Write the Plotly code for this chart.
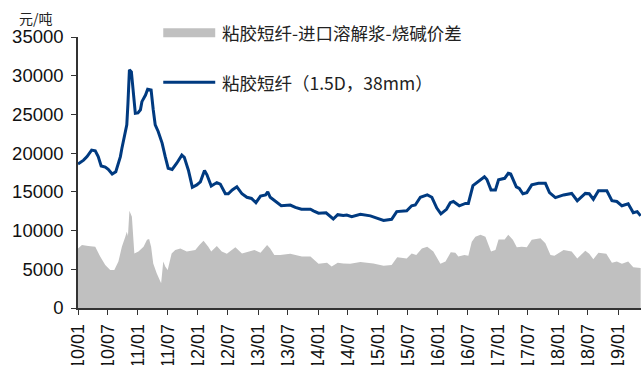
import plotly.graph_objects as go

# Viscose staple fibre price (1.5D, 38mm), yuan/tonne
fiber_dates = [
    "2010-01-01", "2010-02-04", "2010-02-25", "2010-03-25", "2010-04-16", "2010-05-04",
    "2010-05-22", "2010-06-16", "2010-07-04", "2010-07-28", "2010-08-19", "2010-09-16",
    "2010-09-25", "2010-10-10", "2010-10-25", "2010-11-01", "2010-11-10", "2010-11-22",
    "2010-12-04", "2010-12-16", "2011-01-01", "2011-01-16", "2011-01-25", "2011-02-16",
    "2011-03-01", "2011-03-22", "2011-04-04", "2011-04-16", "2011-05-04", "2011-05-28",
    "2011-06-16", "2011-07-04", "2011-07-28", "2011-08-25", "2011-09-25", "2011-10-10",
    "2011-11-04", "2011-11-28", "2011-12-25", "2012-01-16", "2012-02-10", "2012-02-25",
    "2012-03-22", "2012-04-25", "2012-05-16", "2012-06-16", "2012-07-04", "2012-07-28",
    "2012-08-25", "2012-09-25", "2012-10-25", "2012-11-22", "2012-12-19", "2013-01-16",
    "2013-02-16", "2013-03-01", "2013-03-16", "2013-04-16", "2013-05-22", "2013-07-16",
    "2013-08-16", "2013-09-22", "2013-11-16", "2013-12-04", "2014-01-04", "2014-02-19",
    "2014-03-10", "2014-04-04", "2014-05-01", "2014-06-04", "2014-06-25", "2014-07-25",
    "2014-09-16", "2014-11-16", "2014-12-25", "2015-02-04", "2015-03-25", "2015-04-25",
    "2015-06-25", "2015-07-25", "2015-08-16", "2015-09-16", "2015-10-28", "2015-11-25",
    "2015-12-25", "2016-01-19", "2016-02-22", "2016-03-16", "2016-04-04", "2016-05-10",
    "2016-06-16", "2016-07-04", "2016-08-01", "2016-08-25", "2016-09-16", "2016-10-10",
    "2016-10-25", "2016-11-19", "2016-12-16", "2017-01-04", "2017-02-10", "2017-03-04",
    "2017-03-19", "2017-04-22", "2017-05-10", "2017-06-01", "2017-06-25", "2017-07-25",
    "2017-09-04", "2017-10-16", "2017-11-10", "2017-12-16", "2018-02-04", "2018-03-25",
    "2018-04-28", "2018-06-16", "2018-07-10", "2018-08-04", "2018-09-04", "2018-10-25",
    "2018-11-25", "2018-12-25", "2019-01-25", "2019-03-04", "2019-04-04", "2019-04-28",
    "2019-05-19",
]
fiber_price = [
    18600, 19100, 19550, 20400, 20300, 19550,
    18350, 18200, 17900, 17300, 17600, 19550,
    20600, 22100, 23650, 26400, 30750, 30500,
    27700, 25150, 25200, 25600, 26650, 27500,
    28250, 28150, 25600, 23650, 22800, 21300,
    19550, 18050, 17900, 18700, 19750, 19450,
    17800, 15600, 15900, 16300, 17750, 17200,
    15750, 16200, 16000, 14750, 14750, 15250,
    15650, 14750, 14300, 14150, 13600, 14450,
    14600, 15000, 14300, 13750, 13200, 13300,
    13000, 12750, 12750, 12550, 12250, 12300,
    12000, 11500, 12050, 11950, 12000, 11800,
    12100, 11900, 11600, 11300, 11450, 12450,
    12550, 13200, 13300, 14300, 14600, 14300,
    12900, 12150, 12750, 13600, 13750, 13200,
    13500, 13500, 15800, 16200, 16600, 16950,
    16600, 15250, 15250, 16550, 16750, 17400,
    17300, 15650, 15450, 14750, 14900, 15900,
    16100, 16100, 14900, 14250, 14600, 14800,
    13850, 14800, 14750, 14050, 15150, 15150,
    13850, 13750, 13200, 13450, 12300, 12450,
    11900,
]

# Spread: viscose staple fibre minus imported dissolving pulp and caustic soda
spread_dates = [
    "2010-01-01", "2010-01-25", "2010-03-04", "2010-04-16", "2010-05-16", "2010-06-16",
    "2010-07-16", "2010-08-10", "2010-09-04", "2010-09-25", "2010-10-16", "2010-10-25",
    "2010-11-01", "2010-11-10", "2010-11-25", "2010-12-10", "2011-01-04", "2011-02-04",
    "2011-02-25", "2011-03-10", "2011-03-22", "2011-04-04", "2011-04-25", "2011-05-22",
    "2011-06-04", "2011-06-16", "2011-07-01", "2011-07-25", "2011-08-16", "2011-09-16",
    "2011-10-25", "2011-12-16", "2012-01-10", "2012-02-04", "2012-03-04", "2012-03-22",
    "2012-04-25", "2012-05-25", "2012-06-25", "2012-08-16", "2012-09-25", "2012-11-04",
    "2012-12-10", "2013-01-16", "2013-02-25", "2013-03-16", "2013-04-10", "2013-05-16",
    "2013-07-16", "2013-09-25", "2013-11-16", "2014-01-04", "2014-02-25", "2014-03-25",
    "2014-05-01", "2014-06-04", "2014-07-16", "2014-09-16", "2014-12-04", "2015-02-04",
    "2015-03-25", "2015-04-28", "2015-06-25", "2015-07-25", "2015-08-22", "2015-09-25",
    "2015-10-28", "2015-12-04", "2016-01-16", "2016-02-16", "2016-03-19", "2016-04-16",
    "2016-05-04", "2016-06-10", "2016-07-04", "2016-07-25", "2016-08-16", "2016-09-16",
    "2016-10-16", "2016-11-04", "2016-11-19", "2016-12-16", "2017-01-04", "2017-02-10",
    "2017-03-04", "2017-04-01", "2017-04-25", "2017-05-25", "2017-06-25", "2017-07-25",
    "2017-09-16", "2017-10-16", "2017-11-16", "2017-12-10", "2018-02-04", "2018-03-25",
    "2018-04-28", "2018-06-16", "2018-07-10", "2018-08-04", "2018-09-04", "2018-10-22",
    "2018-11-25", "2018-12-25", "2019-01-25", "2019-03-04", "2019-04-04", "2019-05-19",
]
spread_values = [
    7700, 8150, 8000, 7900, 6650, 5550,
    4900, 4900, 6000, 7900, 9200, 9850,
    9300, 12550, 11800, 7050, 7300, 7900,
    8800, 8900, 7900, 5750, 4500, 3200,
    6000, 5350, 4900, 7050, 7500, 7700,
    7300, 7500, 8150, 8700, 7900, 7300,
    8000, 7300, 7000, 7850, 7050, 7300,
    7500, 7150, 8150, 7700, 6850, 6850,
    7000, 6650, 6650, 5700, 5850, 5350,
    5850, 5750, 5700, 5950, 5750, 5450,
    5550, 6550, 6400, 7050, 6850, 7700,
    7900, 7300, 5700, 6000, 7200, 7150,
    6650, 6850, 6750, 8550, 9200, 9450,
    9200, 8150, 7300, 7500, 8850, 8850,
    9450, 8800, 7850, 7900, 7850, 8800,
    9000, 8350, 6850, 6750, 7500, 7300,
    6400, 7400, 7000, 6300, 7150, 7000,
    5850, 6000, 5700, 6000, 5250, 5150,
]

# Axis ticks every six months
tick_dates = [
    "2010-01-01", "2010-07-01", "2011-01-01", "2011-07-01", "2012-01-01", "2012-07-01",
    "2013-01-01", "2013-07-01", "2014-01-01", "2014-07-01", "2015-01-01", "2015-07-01",
    "2016-01-01", "2016-07-01", "2017-01-01", "2017-07-01", "2018-01-01", "2018-07-01",
    "2019-01-01",
]
tick_labels = [
    "10/01", "10/07", "11/01", "11/07", "12/01", "12/07", "13/01", "13/07", "14/01",
    "14/07", "15/01", "15/07", "16/01", "16/07", "17/01", "17/07", "18/01", "18/07",
    "19/01",
]
y_ticks = [0, 5000, 10000, 15000, 20000, 25000, 30000, 35000]
y_tick_labels = ["0", "5000", "10000", "15000", "20000", "25000", "30000", "35000"]

legend_area = "粘胶短纤-进口溶解浆-烧碱价差"
legend_line = "粘胶短纤（1.5D，38mm）"
unit_label = "元/吨"

W, H = 641, 365
ML, MR, MT, MB = 77.7, 0, 36.7, 57.3
PW, PH = W - ML - MR, H - MT - MB

BLUE = "#003a80"
GREY = "#c0c0c0"
CJK = "Noto Sans CJK SC"
LAT = "Liberation Sans, Arial, sans-serif"


def px(x):
    return (x - ML) / PW


def py(y):
    return (H - MB - y) / PH


fig = go.Figure()
fig.add_trace(go.Scatter(
    x=spread_dates, y=spread_values, mode="lines", fill="tozeroy",
    line=dict(width=0, color=GREY), fillcolor=GREY, showlegend=False,
))
fig.add_trace(go.Scatter(
    x=fiber_dates, y=fiber_price, mode="lines",
    line=dict(width=3, color=BLUE), showlegend=False,
))

# Hand-placed legend
fig.add_shape(type="rect", xref="paper", yref="paper",
              x0=px(163), x1=px(215), y0=py(37), y1=py(28),
              fillcolor=GREY, line=dict(width=0))
fig.add_shape(type="line", xref="paper", yref="paper",
              x0=px(163), x1=px(215), y0=py(82), y1=py(82),
              line=dict(color=BLUE, width=3))
fig.add_annotation(xref="paper", yref="paper", x=px(220), y=py(32),
                   xanchor="left", yanchor="middle", showarrow=False,
                   text=legend_area, font=dict(family=CJK, size=17.5, color="#222"))
fig.add_annotation(xref="paper", yref="paper", x=px(220), y=py(82),
                   xanchor="left", yanchor="middle", showarrow=False,
                   text=legend_line, font=dict(family=CJK, size=17.5, color="#222"))
fig.add_annotation(xref="paper", yref="paper", x=px(36), y=py(18),
                   xanchor="center", yanchor="middle", showarrow=False,
                   text=unit_label, font=dict(family=CJK, size=14, color="#222"))

fig.update_layout(
    width=W, height=H,
    margin=dict(l=ML, r=MR, t=MT, b=MB, pad=0),
    paper_bgcolor="white", plot_bgcolor="white",
    font=dict(family=LAT, size=18, color="#111"),
    showlegend=False,
)
fig.update_xaxes(
    type="date", range=["2010-01-01", "2019-05-21"],
    tickvals=tick_dates, ticktext=tick_labels, tickangle=-90,
    showgrid=False, zeroline=False, showline=True, linecolor="#333", linewidth=1.5,
    ticks="outside", ticklen=5, tickwidth=1.2, tickcolor="#333", ticklabelstandoff=2,
    tickfont=dict(family=LAT, size=18, color="#111"), automargin=False,
)
fig.update_yaxes(
    range=[0, 35000], tickvals=y_ticks, ticktext=y_tick_labels,
    showgrid=False, zeroline=False, showline=True, linecolor="#333", linewidth=1.5,
    ticks="outside", ticklen=5, tickwidth=1.2, tickcolor="#333", ticklabelstandoff=4,
    tickfont=dict(family=LAT, size=18.5, color="#111"), automargin=False,
)

fig.write_html("out.html")
